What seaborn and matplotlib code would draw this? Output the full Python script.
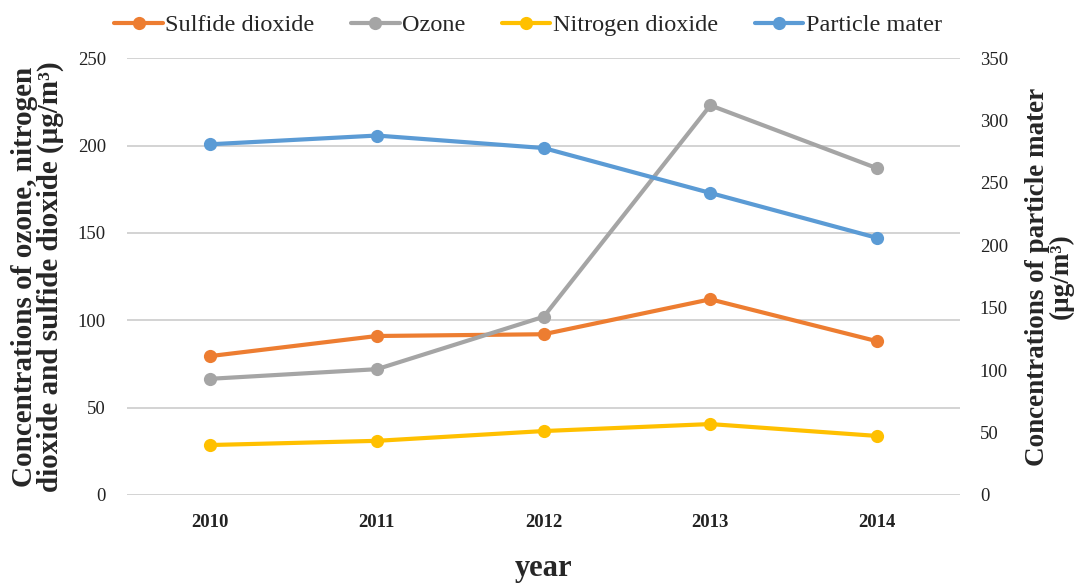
import pandas as pd
import matplotlib
matplotlib.use("Agg")
import matplotlib.pyplot as plt
import seaborn as sns

years = ["2010", "2011", "2012", "2013", "2014"]
sulfide = [79.5, 91, 92, 112, 88]
ozone = [66.5, 72, 102, 223, 187]
nitrogen = [28.6, 31, 36.6, 40.6, 33.8]
particle = [281, 288, 278, 242, 206]

series_names = ["Sulfide dioxide", "Ozone", "Nitrogen dioxide", "Particle mater"]
colors = ["#ED7D31", "#A5A5A5", "#FFC000", "#5B9BD5"]

sns.set_style("white")
plt.rcParams["font.family"] = ["Liberation Serif", "DejaVu Serif"]

left = pd.DataFrame({
    "year": years * 3,
    "value": sulfide + ozone + nitrogen,
    "series": [series_names[0]] * 5 + [series_names[1]] * 5 + [series_names[2]] * 5,
})
right = pd.DataFrame({"year": years, "value": particle, "series": series_names[3]})

fig = plt.figure(figsize=(10.84, 5.84), dpi=100)
ax = fig.add_axes([0.117, 0.1524, 0.769, 0.748])
ax2 = ax.twinx()

lw = 3.0
ms = 9.5
sns.lineplot(data=left, x="year", y="value", hue="series", palette=colors[:3],
             marker="o", markersize=ms, markeredgewidth=0, linewidth=lw, ax=ax, legend=False)
sns.lineplot(data=right, x="year", y="value", hue="series", palette=colors[3:],
             marker="o", markersize=ms, markeredgewidth=0, linewidth=lw, ax=ax2, legend=False)

ax.set_xlim(-0.5, 4.5)
ax.set_ylim(0, 250)
ax.set_yticks(range(0, 251, 50))
ax2.set_ylim(0, 350)
ax2.set_yticks(range(0, 351, 50))
ax.yaxis.grid(True, color="#D0D0D0", linewidth=1.3)
ax.set_axisbelow(True)

for a in (ax, ax2):
    for s in a.spines.values():
        s.set_visible(False)
    a.tick_params(length=0, labelsize=13.5, colors="#222222")

ax.tick_params(axis="y", pad=15)
ax2.tick_params(axis="y", pad=14)
for lab in ax.get_xticklabels():
    lab.set_fontweight("bold")
ax.tick_params(axis="x", pad=14)

ax.set_xlabel("year", fontsize=22, fontweight="bold", labelpad=16)
ax.set_ylabel("Concentrations of ozone, nitrogen\ndioxide and sulfide dioxide (μg/m³)",
              fontsize=21, fontweight="bold", labelpad=10, linespacing=0.95)
ax2.set_ylabel("Concentrations of particle mater\n(μg/m³)", fontsize=19.5,
               fontweight="bold", rotation=90, labelpad=12, linespacing=0.95)

handles = [plt.Line2D([], [], color=c, marker="o", markersize=ms, linewidth=lw,
                      markeredgewidth=0) for c in colors]
fig.legend(handles, series_names, loc="upper center", bbox_to_anchor=(0.487, 1.013),
           ncol=4, frameon=False, fontsize=17.5, handlelength=2.0, handletextpad=0.1,
           columnspacing=1.5)

fig.savefig("out.png", dpi=100)
